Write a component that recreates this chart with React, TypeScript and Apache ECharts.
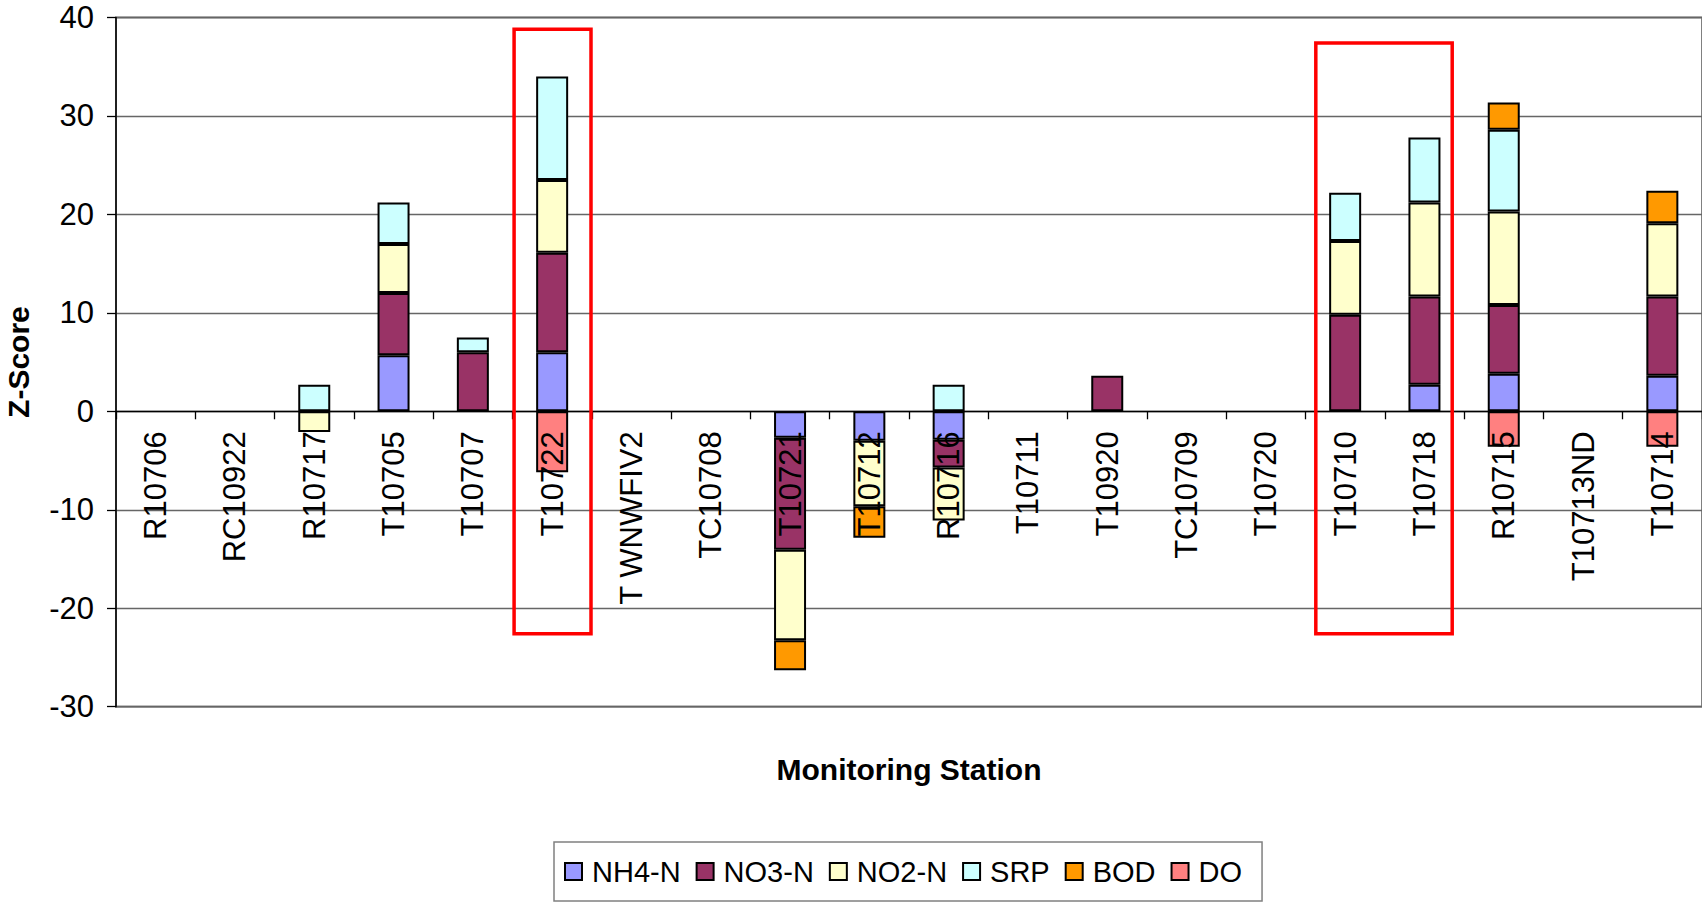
import React, { useEffect, useRef } from "react";
import * as echarts from "echarts";

const categories = [
  "R10706", "RC10922", "R10717", "T10705", "T10707", "T10722", "T WNWFIV2", "TC10708",
  "T10721", "T10712", "R10716", "T10711", "T10920", "TC10709", "T10720", "T10710",
  "T10718", "R10715", "T10713ND", "T10714",
];

const nh4n = [null, null, null, 5.7, null, 6.0, null, null, -2.7, -3.0, -2.9, null, null, null, null, null, 2.7, 3.8, null, 3.6];
const no3n = [null, null, null, 6.3, 6.0, 10.1, null, null, -11.35, null, -2.8, null, 3.6, null, null, 9.8, 8.95, 7.0, null, 8.05];
const no2n = [null, null, -2.1, 5.0, null, 7.4, null, null, -9.2, -6.65, -5.4, null, null, null, null, 7.5, 9.55, 9.5, null, 7.45];
const srp = [null, null, 2.7, 4.2, 1.5, 10.5, null, null, null, null, 2.7, null, null, null, null, 4.9, 6.6, 8.3, null, null];
const bod = [null, null, null, null, null, null, null, null, -3.05, -3.2, null, null, null, null, null, null, null, 2.75, null, 3.3];
const dO = [null, null, null, null, null, -6.2, null, null, null, null, null, null, null, null, null, null, null, -3.6, null, -3.6];

const seriesNames = ["NH4-N", "NO3-N", "NO2-N", "SRP", "BOD", "DO"];
const seriesColors = ["#9999FF", "#993366", "#FFFFCC", "#CCFFFF", "#FF9900", "#FF8080"];
const seriesData = [nh4n, no3n, no2n, srp, bod, dO];

// highlight boxes: [start offset, end offset (category units), top value, bottom value, anchor category index]
const highlightBoxes = [
  [-0.48, 0.49, 38.8, -22.6, 5],
  [-0.37, 1.35, 37.4, -22.6, 15],
];

const yTicks = { min: -30, max: 40, interval: 10 };

const GRID_TOP = 17.4;
const GRID_BOTTOM = 204.3;
const GRID_LEFT = 116;
const HEIGHT = 911;

export default function App() {
  const ref = useRef<HTMLDivElement>(null);
  useEffect(() => {
    document.body.style.margin = "0";
    const chart = echarts.init(ref.current as HTMLDivElement, null, { renderer: "svg" });
    const plotH = HEIGHT - GRID_TOP - GRID_BOTTOM;
    // move the category axis up to the value 0 line
    const zeroOffset = -((0 - yTicks.min) / (yTicks.max - yTicks.min)) * plotH;
    const barSeries = seriesNames.map((name, i) => ({
      name,
      type: "bar",
      stack: "total",
      barWidth: 32,
      data: seriesData[i],
      itemStyle: { color: seriesColors[i], borderColor: "#000", borderWidth: 2 },
      z: 2,
    }));
    chart.setOption({
      animation: false,
      backgroundColor: "#fff",
      grid: {
        left: GRID_LEFT,
        right: 0,
        top: GRID_TOP,
        bottom: GRID_BOTTOM,
        containLabel: false,
        outerBoundsMode: "none",
        show: true,
        borderColor: "#808080",
        borderWidth: 2,
        backgroundColor: "transparent",
      },
      legend: {
        data: seriesNames,
        left: 554,
        top: 842,
        orient: "horizontal",
        itemWidth: 17,
        itemHeight: 17,
        itemGap: 15,
        padding: [15, 20, 15, 10],
        borderColor: "#808080",
        borderWidth: 1.5,
        icon: "rect",
        textStyle: {
          fontFamily: "'Liberation Sans', Arial",
          fontSize: 29,
          color: "#000",
          padding: [0, 0, 0, 5],
        },
      },
      xAxis: {
        type: "category",
        data: categories,
        z: 3,
        position: "bottom",
        offset: zeroOffset,
        name: "Monitoring Station",
        nameLocation: "middle",
        nameGap: 343,
        nameTextStyle: { fontFamily: "'Liberation Sans', Arial", fontSize: 30, fontWeight: "bold", color: "#000" },
        axisLine: { onZero: false, lineStyle: { color: "#000", width: 1.3 } },
        axisTick: { show: true, length: 8, inside: false, lineStyle: { color: "#000", width: 1.3 } },
        axisLabel: {
          rotate: 90,
          margin: 20,
          interval: 0,
          fontFamily: "'Liberation Sans', Arial",
          fontSize: 31,
          color: "#000",
        },
        splitLine: { show: false },
      },
      yAxis: {
        type: "value",
        min: yTicks.min,
        max: yTicks.max,
        interval: yTicks.interval,
        name: "Z-Score",
        nameLocation: "middle",
        nameGap: 83,
        nameTextStyle: { fontFamily: "'Liberation Sans', Arial", fontSize: 30, fontWeight: "bold", color: "#000" },
        axisLine: { show: true, onZero: false, lineStyle: { color: "#000", width: 1.5 } },
        axisTick: { show: true, length: 9, lineStyle: { color: "#000", width: 1.3 } },
        axisLabel: {
          margin: 22,
          fontFamily: "'Liberation Sans', Arial",
          fontSize: 31,
          color: "#000",
        },
        splitLine: { show: true, lineStyle: { color: "#666", width: 1.3 } },
      },
      series: [
        ...barSeries,
        {
          name: "highlight",
          type: "custom",
          coordinateSystem: "cartesian2d",
          encode: { x: 4, y: 2 },
          data: highlightBoxes,
          z: 5,
          silent: true,
          renderItem: (params: any, api: any) => {
            const x0 = api.value(0);
            const x1 = api.value(1);
            const yT = api.value(2);
            const yB = api.value(3);
            const idx = api.value(4);
            const band = api.size([1, 0])[0];
            const top = api.coord([idx, yT]);
            const bottom = api.coord([idx, yB]);
            return {
              type: "rect",
              shape: {
                x: top[0] + x0 * band,
                y: top[1],
                width: (x1 - x0) * band,
                height: bottom[1] - top[1],
              },
              style: { fill: "none", stroke: "#FF0000", lineWidth: 3.5 },
            };
          },
        },
      ],
    });
    return () => chart.dispose();
  }, []);
  return <div ref={ref} style={{ width: 1702, height: 911 }} />;
}
